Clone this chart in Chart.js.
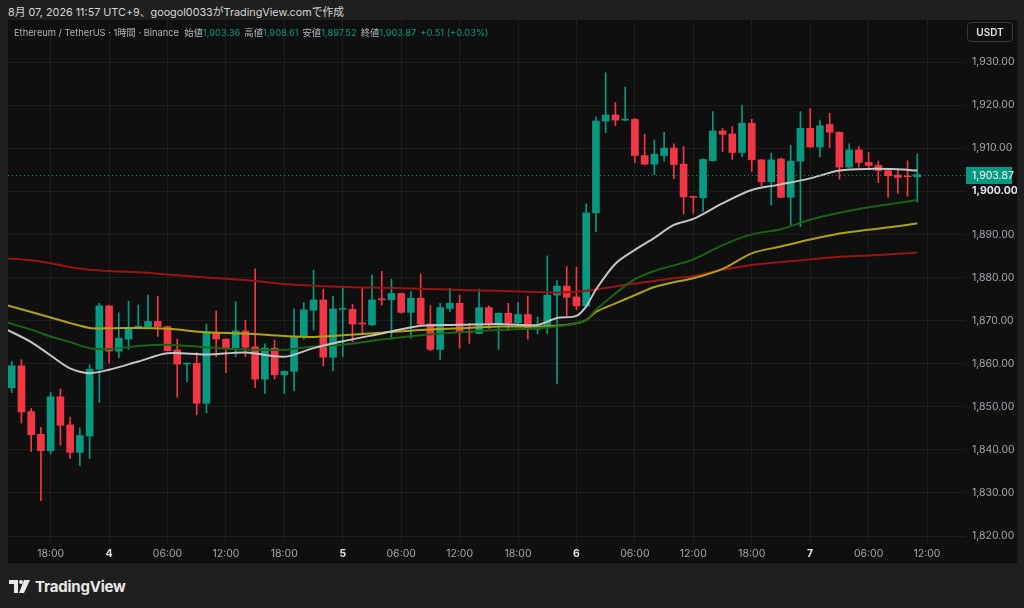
<!DOCTYPE html>
<html>
<head>
<meta charset="utf-8">
<script src="https://cdn.jsdelivr.net/npm/chart.js@4.4.0/dist/chart.umd.min.js"></script>
<style>
  html, body { margin: 0; padding: 0; }
  body { width: 1024px; height: 608px; background: #1f1f1f; position: relative; overflow: hidden;
         font-family: Inter, "Noto Sans CJK JP", "DejaVu Sans", sans-serif; }
  #top { position: absolute; left: 8px; top: 3px; font-size: 10.8px; color: #d6d6d6; }
  #panel { position: absolute; left: 8px; top: 20px; width: 1009px; height: 543px; background: #0f0f0f; }
  #legend { position: absolute; left: 14px; top: 25px; font-size: 9.3px; color: #b2b5be; white-space: nowrap; }
  #legend .v { color: #089981; margin-right: 4px; }
  #usdt { position: absolute; left: 967px; top: 22px; width: 44px; height: 18px; border: 1px solid #3a3a3a;
          border-radius: 4px; color: #e0e0e0; font-size: 10px; font-weight: 600; text-align: center; line-height: 18px; }
  #logo { position: absolute; left: 9px; top: 577px; color: #e8e8e8; font-size: 15px; font-weight: 700;
          display: flex; align-items: center; gap: 5px; letter-spacing: -0.2px; }
</style>
</head>
<body>
<div id="top">8月 07, 2026 11:57 UTC+9、googol0033がTradingView.comで作成</div>
<div id="panel"><canvas id="c"></canvas></div>
<div id="legend"></div>
<div id="usdt">USDT</div>
<div id="logo">
  <svg width="21" height="13" viewBox="0 0 21 13"><path d="M0 0h9v13H5V4H0z M15 0h6l-6 13h-5z" fill="#e8e8e8"/><circle cx="12" cy="2" r="2" fill="#e8e8e8"/></svg>
  <span>TradingView</span>
</div>
<script>
// hourly candles, 3rd 14:00 -> 7th 11:00
var candleOpen = [1854.4,1859.5,1848.9,1843.6,1839.8,1852.3,1845.8,1839.4,1843.2,1858.7,
  1873.4,1862.9,1865.7,1868.4,1868.6,1869.8,1868.6,1863.2,1859.9,1860.1,
  1850.8,1867.3,1865.7,1863.7,1867.6,1863.9,1856.4,1863.6,1857.4,1858.2,
  1866.4,1872.4,1874.8,1861.5,1872.6,1872.6,1869.3,1869.0,1874.9,1874.8,
  1876.3,1871.9,1875.2,1869.2,1863.3,1872.8,1874.0,1867.4,1867.0,1873.0,
  1869.4,1871.7,1869.5,1871.4,1868.0,1868.6,1875.9,1878.0,1875.5,1873.4,
  1895.0,1916.3,1917.7,1916.5,1916.7,1908.3,1906.3,1908.3,1910.0,1906.3,
  1898.8,1898.5,1907.1,1914.0,1913.3,1909.0,1915.8,1907.3,1902.2,1907.5,
  1898.6,1907.0,1914.6,1910.3,1915.5,1913.7,1905.6,1909.6,1906.7,1906.0,
  1904.8,1903.8,1903.5,1903.36];
var candleHigh = [1860.5,1860.9,1849.6,1845.2,1853.4,1854.1,1847.6,1845.1,1859.7,1874.0,
  1873.6,1871.8,1874.5,1873.6,1875.9,1875.6,1868.7,1865.7,1860.1,1862.6,
  1869.2,1872.2,1865.8,1874.4,1870.1,1882.0,1864.6,1865.5,1858.3,1872.7,
  1874.2,1881.7,1877.3,1875.6,1877.5,1873.8,1877.5,1880.6,1881.4,1879.6,
  1876.4,1876.7,1880.8,1873.5,1874.0,1877.5,1875.9,1869.4,1877.3,1873.4,
  1871.8,1874.0,1874.2,1875.7,1870.8,1885.0,1879.3,1882.5,1882.4,1897.1,
  1917.3,1927.5,1920.6,1924.2,1916.9,1913.2,1911.9,1913.7,1911.0,1910.4,
  1898.9,1907.6,1918.5,1914.6,1915.0,1920.0,1916.7,1907.4,1908.8,1907.7,
  1910.7,1918.5,1919.2,1916.5,1918.1,1913.8,1911.0,1910.4,1909.0,1907.0,
  1905.3,1904.9,1907.1,1908.61];
var candleLow = [1853.3,1846.2,1839.6,1828.2,1839.0,1841.1,1838.0,1836.3,1838.0,1851.0,
  1860.1,1861.4,1863.3,1868.2,1868.4,1866.3,1862.9,1852.2,1855.8,1848.1,
  1848.6,1861.6,1857.9,1861.6,1861.6,1854.4,1853.1,1856.4,1853.1,1853.7,
  1865.7,1867.8,1859.5,1858.3,1861.6,1865.1,1866.7,1868.9,1873.6,1865.7,
  1871.7,1865.9,1869.0,1863.0,1861.0,1872.1,1863.6,1864.7,1866.9,1868.2,
  1863.3,1867.7,1868.6,1865.7,1866.9,1867.0,1855.3,1871.1,1872.5,1873.2,
  1890.6,1913.6,1915.2,1916.4,1906.6,1906.2,1903.9,1907.0,1902.9,1894.7,
  1894.9,1895.3,1907.0,1909.2,1907.4,1908.0,1904.6,1901.3,1896.8,1898.5,
  1892.2,1891.8,1910.2,1908.0,1910.2,1902.8,1905.5,1905.6,1905.2,1902.0,
  1898.6,1899.5,1898.8,1897.52];
var candleClose = [1859.5,1848.8,1843.5,1839.8,1852.3,1845.7,1839.4,1843.3,1858.7,1873.4,
  1862.9,1865.9,1868.4,1868.7,1869.8,1868.6,1863.0,1859.9,1860.1,1850.8,
  1867.3,1865.7,1863.7,1867.6,1863.8,1856.4,1863.6,1857.4,1858.2,1866.4,
  1872.5,1874.8,1861.5,1872.7,1872.7,1869.2,1869.2,1874.8,1874.8,1876.3,
  1871.9,1875.2,1869.2,1863.3,1873.0,1874.0,1867.4,1867.2,1873.0,1869.4,
  1871.7,1869.5,1871.4,1868.0,1868.6,1875.9,1878.0,1875.4,1873.4,1895.0,
  1916.3,1917.7,1916.5,1916.6,1908.3,1906.3,1908.6,1910.0,1906.2,1898.7,
  1898.6,1907.4,1914.0,1913.2,1909.0,1915.8,1907.3,1902.2,1907.3,1898.6,
  1907.0,1914.6,1910.3,1915.2,1913.7,1905.6,1909.6,1906.7,1906.0,1904.8,
  1903.6,1903.2,1903.36,1903.87];

// moving average lines, read at these candle positions
var maIndex = [-0.4,2,4,6,8,10,13,16,20,24,28,31,34,38,42,46,50,54,56,58,59,60,62,64,66,68,70,73,76,79,82,85,88,91,93];
var maWhite = [1867.8,1865.0,1861.9,1858.9,1857.8,1858.6,1860.5,1862.4,1862.1,1862.6,1861.6,1863.6,1865.2,1867.0,1868.8,1869.0,1869.2,1869.0,1870.6,1871.1,1873.3,1877.2,1883.2,1886.4,1889.2,1892.2,1893.6,1897.2,1900.3,1901.6,1903.0,1904.8,1905.2,1905.1,1904.8];
var maGreen = [1869.5,1867.9,1866.3,1865.0,1863.6,1863.4,1864.1,1864.4,1863.8,1863.3,1863.2,1864.0,1864.4,1865.6,1866.6,1867.3,1867.8,1868.2,1868.6,1869.4,1870.1,1872.5,1876.3,1879.6,1881.5,1882.8,1884.2,1887.5,1890.0,1891.2,1893.4,1895.0,1896.3,1897.3,1898.0];
var maYellow = [1873.5,1872.0,1870.7,1869.4,1868.3,1868.2,1868.3,1868.1,1867.3,1867.0,1866.4,1866.2,1866.6,1867.2,1867.8,1868.2,1868.6,1868.6,1868.8,1869.4,1870.1,1872.0,1874.0,1875.9,1877.8,1878.9,1879.8,1882.0,1885.6,1887.2,1888.8,1890.2,1891.1,1891.9,1892.6];
var maRed = [1884.4,1884.0,1883.3,1882.4,1881.8,1881.5,1881.2,1880.7,1880.0,1879.4,1878.5,1878.1,1877.8,1877.6,1877.4,1877.1,1876.9,1876.6,1876.5,1876.7,1876.9,1877.2,1877.9,1878.6,1879.2,1879.8,1880.3,1881.8,1882.9,1883.6,1884.2,1884.8,1885.1,1885.5,1885.8];

var xTickPos = [4,10,16,22,28,34,40,46,52,58,64,70,76,82,88,94];
var xTickLabels = ['18:00','4','06:00','12:00','18:00','5','06:00','12:00','18:00','6','06:00','12:00','18:00','7','06:00','12:00'];
var yTickValues = [1820,1830,1840,1850,1860,1870,1880,1890,1900,1910,1920,1930];

var UP = '#089981', DOWN = '#f23645';
var n = candleOpen.length;
var last = n - 1;
var fmt = function(v){ return v.toLocaleString('en-US', {minimumFractionDigits: 2, maximumFractionDigits: 2}); };

// legend row
var chg = candleClose[last] - candleOpen[last];
document.getElementById('legend').innerHTML =
  'Ethereum / TetherUS · 1時間 · Binance &nbsp;始値<span class="v">' + fmt(candleOpen[last]) +
  '</span>高値<span class="v">' + fmt(candleHigh[last]) +
  '</span>安値<span class="v">' + fmt(candleLow[last]) +
  '</span>終値<span class="v">' + fmt(candleClose[last]) +
  '</span><span class="v">+' + chg.toFixed(2) + ' (+' + (chg / candleOpen[last] * 100).toFixed(2) + '%)</span>';

var colors = candleOpen.map(function(o, i){ return candleClose[i] >= o ? UP : DOWN; });
var wicks = candleOpen.map(function(o, i){ return {x: i, y: [candleLow[i], candleHigh[i]]}; });
var bodies = candleOpen.map(function(o, i){ return {x: i, y: [o, candleClose[i]]}; });
function maLine(vals, color){
  return {type: 'line', data: maIndex.map(function(x, k){ return {x: x, y: vals[k]}; }),
    borderColor: color, borderWidth: 2, pointRadius: 0, tension: 0.3, order: 0};
}
function isDay(c){
  if (!c || !c.tick) return false;
  var l = xTickLabels[xTickPos.indexOf(c.tick.value)];
  return !!l && l.length < 3;
}
function isBold(c){ return !!(c && c.tick && c.tick.value === 1900); }
// no extra label padding: plot fills the whole panel
function noPad(s){ s.paddingTop = 0; s.paddingBottom = 0; s.paddingLeft = 0; s.paddingRight = 0; }

var priceTag = {
  id: 'priceTag',
  afterDraw: function(chart){
    var ctx = chart.ctx, ys = chart.scales.y, a = chart.chartArea;
    var y = Math.round(ys.getPixelForValue(candleClose[last])) + 0.5;
    ctx.save();
    ctx.strokeStyle = UP; ctx.lineWidth = 1; ctx.setLineDash([1, 3]);
    ctx.beginPath(); ctx.moveTo(a.left, y); ctx.lineTo(a.right, y); ctx.stroke();
    ctx.setLineDash([]);
    ctx.fillStyle = UP;
    ctx.fillRect(a.right + 1, y - 8.5, 46, 17);
    ctx.fillStyle = '#ffffff';
    ctx.font = '10.5px Inter, "Noto Sans", sans-serif';
    ctx.textBaseline = 'middle';
    ctx.fillText(fmt(candleClose[last]), a.right + 7, y + 0.5);
    ctx.restore();
  }
};

var grid = 'rgba(255,255,255,0.055)';
new Chart(document.getElementById('c'), {
  type: 'bar',
  data: {
    datasets: [
      maLine(maWhite, '#c4c4c4'),
      maLine(maGreen, '#1a6412'),
      maLine(maYellow, '#ada315'),
      maLine(maRed, '#9c1313'),
      {data: bodies, backgroundColor: colors, barThickness: 7, grouped: false, minBarLength: 1, order: 1},
      {data: wicks, backgroundColor: colors, barThickness: 1, grouped: false, order: 2}
    ]
  },
  options: {
    responsive: true,
    maintainAspectRatio: false,
    animation: false,
    plugins: {legend: {display: false}, tooltip: {enabled: false}},
    layout: {padding: 0},
    scales: {
      x: {
        type: 'linear', min: -0.38, max: 97.9, offset: false,
        grid: {color: grid, offset: false, drawTicks: false},
        border: {display: false},
        afterBuildTicks: function(s){ s.ticks = xTickPos.map(function(v){ return {value: v}; }); },
        afterFit: function(s){ s.height = 20; noPad(s); },
        ticks: {
          autoSkip: false, maxRotation: 0, padding: 5,
          color: function(c){ return isDay(c) ? '#e0e3eb' : '#a3a6af'; },
          font: function(c){ return {size: 10.5, weight: isDay(c) ? 'bold' : 'normal', family: 'Inter'}; },
          callback: function(v){ var k = xTickPos.indexOf(v); return k < 0 ? '' : xTickLabels[k]; }
        }
      },
      y: {
        position: 'right', min: 1818.38, max: 1939.75,
        grid: {color: grid, drawTicks: false},
        border: {display: false},
        afterBuildTicks: function(s){ s.ticks = yTickValues.map(function(v){ return {value: v}; }); },
        afterFit: function(s){ s.width = 52; noPad(s); },
        ticks: {
          padding: 7,
          color: function(c){ return isBold(c) ? '#e0e3eb' : '#a3a6af'; },
          font: function(c){ return {size: 10.5, family: 'Inter', weight: isBold(c) ? 'bold' : 'normal'}; },
          callback: function(v){ return fmt(v); }
        }
      }
    }
  },
  plugins: [priceTag]
});
</script>
</body>
</html>
